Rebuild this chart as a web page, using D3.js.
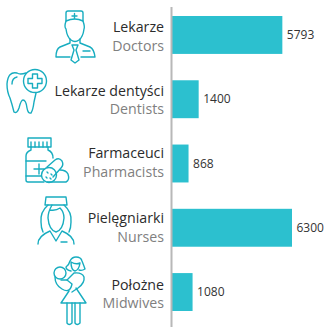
<!DOCTYPE html>
<html>
<head>
<meta charset="utf-8">
<script src="https://cdn.jsdelivr.net/npm/d3@7"></script>
<style>
  html, body { margin: 0; padding: 0; background: #fff; }
  svg { display: block; }
  text { font-family: "Open Sans", sans-serif; font-size: 14.2px; }
</style>
</head>
<body>
<div id="chart"></div>
<script>
var namesPl = ["Lekarze", "Lekarze dentyści", "Farmaceuci", "Pielęgniarki", "Położne"];
var namesEn = ["Doctors", "Dentists", "Pharmacists", "Nurses", "Midwives"];
var values = [5793, 1400, 868, 6300, 1080];

var svgWidth = 326;
var svgHeight = 327;

// the label pairs do not sit exactly on the bar centres in the original
var labelShift = [0, -1, -3, -2, 0];

var svg = d3.select("#chart")
    .append("svg")
    .attr("width", svgWidth)
    .attr("height", svgHeight);

var xScale = d3.scaleLinear()
    .domain([0, 6300])
    .range([172, 292]);

var yScale = d3.scaleBand()
    .domain(namesPl)
    .range([16, 311])
    .paddingInner(0.41);

// bars
svg.selectAll("rect.bar")
    .data(values)
    .enter()
    .append("rect")
    .attr("class", "bar")
    .attr("x", xScale(0))
    .attr("y", (d, i) => yScale(namesPl[i]))
    .attr("width", d => xScale(d) - xScale(0))
    .attr("height", yScale.bandwidth())
    .attr("fill", "#2cc0cf");

// vertical axis line
svg.append("line")
    .attr("x1", 171.5).attr("x2", 171.5)
    .attr("y1", 7).attr("y2", svgHeight)
    .attr("stroke", "#b8b8b8")
    .attr("stroke-width", 2);

// value labels
svg.selectAll("text.value")
    .data(values)
    .enter()
    .append("text")
    .attr("class", "value")
    .attr("x", d => xScale(d) + 4.5)
    .attr("y", (d, i) => yScale(namesPl[i]) + yScale.bandwidth() / 2 + 4)
    .attr("fill", "#333")
    .style("font-size", "12px")
    .text(d => d);

// category labels, polish on top and english below
svg.selectAll("text.pl")
    .data(namesPl)
    .enter()
    .append("text")
    .attr("class", "pl")
    .attr("x", 164)
    .attr("y", (d, i) => yScale(d) + yScale.bandwidth() / 2 - 2.5 + labelShift[i])
    .attr("text-anchor", "end")
    .attr("fill", "#2b2b2b")
    .text(d => d);

svg.selectAll("text.en")
    .data(namesEn)
    .enter()
    .append("text")
    .attr("class", "en")
    .attr("x", 164)
    .attr("y", (d, i) => yScale(namesPl[i]) + yScale.bandwidth() / 2 + 16 + labelShift[i])
    .attr("text-anchor", "end")
    .attr("fill", "#808080")
    .text(d => d);

// icons, outline drawings in page coordinates
var icons = svg.append("g")
    .attr("fill", "none")
    .attr("stroke", "#18adc0")
    .attr("stroke-width", 1.4)
    .attr("stroke-linejoin", "round")
    .attr("stroke-linecap", "round");

function outline(d) {
    icons.append("path").attr("d", d);
}

// doctor
outline("M66 21V13Q66 11 68 11H81Q83 11 83 13V21Q75 17 66 21");
outline("M72 16H77M74.5 13.5V18.5");
outline("M66 21Q64 27 66 29Q67 37 71 40Q75 43 79 40Q83 37 84 29Q85 27 83 21");
outline("M70 39V43L60 47Q56 49 56 57H70M80 39V43L90 47Q94 49 95 57H81");
outline("M72 45H78L76 50L79 60L75 63L71 60L74 50Z");
outline("M83 51H90");

// tooth
outline("M26 73Q20 75 17 73Q8 71 7 84Q7 92 10 98Q12 104 14 112Q17 114 19 108Q21 100 23 100Q26 100 27 108Q28 114 31 113Q33 110 34 102L36 93");
outline("M12 84Q12 78 17 77");
icons.append("circle").attr("cx", 35).attr("cy", 81).attr("r", 11.5);
outline("M32.5 74H37.5V78.5H42V83.5H37.5V88H32.5V83.5H28V78.5H32.5Z");

// pharmacy
outline("M28 138H51V147H28Z");
outline("M31 142V147M35 142V147M39 142V147M43 142V147M47 142V147");
outline("M31 147V150Q26 152 26 156V180Q26 182 28 182H44");
outline("M48 147V150Q53 152 53 158");
outline("M26 161H46M26 176H41");
outline("M39 164V174M34 169H44");
outline("M47 167L55 160Q59 157 62 161Q64 165 61 168L53 177");
icons.append("circle").attr("cx", 49).attr("cy", 175).attr("r", 7.5);
outline("M47 172L48 173M51 174L52 175M46 177L47 178M50 178L51 179");
outline("M60 170Q66 170 68 174Q70 180 66 182H47");

// nurse
outline("M45 205L46 197H66L67 205Z");
outline("M48 205Q40 212 41 222Q41 228 43 232M64 205Q72 212 71 222Q71 228 69 232");
outline("M52 205Q48 212 48 218Q49 230 56 232Q63 230 64 218Q64 212 60 208Q56 211 50 210");
outline("M38 244Q38 236 50 231L56 241L62 231Q74 236 74 244");
outline("M61 242H67");

// midwife
outline("M71 271Q66 270 66 267Q69 265 70 261Q72 257 76 257Q81 257 82 261Q84 266 85 269Q82 271 79 270");
outline("M71 262Q71 270 75 271Q79 270 80 263Q76 265 71 262");
icons.append("circle").attr("cx", 60).attr("cy", 273).attr("r", 6);
outline("M55 277Q55 285 62 289Q70 294 72 284L67 280Q63 280 61 280");
outline("M67 280L74 273Q82 272 84 277Q85 283 78 288L72 292");
outline("M76 288L86 303H61L69 291");
outline("M67 303V323Q69 326 72 323V303M75 303V323Q77 326 80 323V303");
</script>
</body>
</html>
